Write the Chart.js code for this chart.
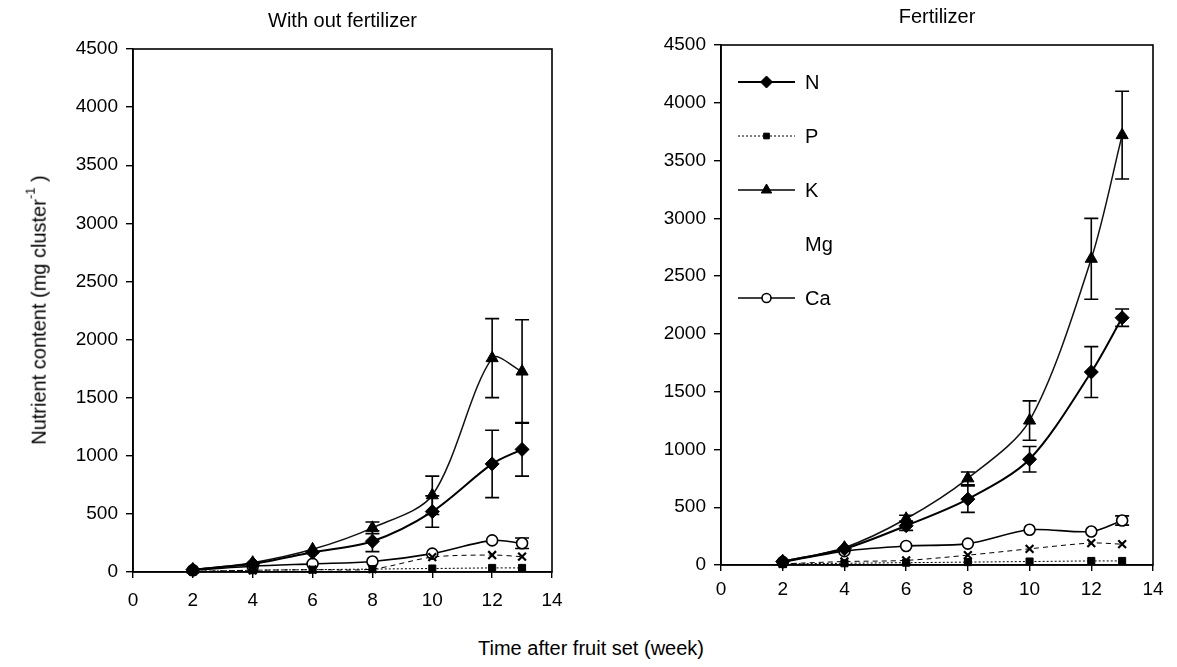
<!DOCTYPE html>
<html>
<head>
<meta charset="utf-8">
<script src="https://cdn.jsdelivr.net/npm/chart.js@4/dist/chart.umd.min.js"></script>
<style>
  html, body { margin: 0; padding: 0; background: #fff; }
  body { width: 1177px; height: 667px; position: relative; overflow: hidden; font-family: 'Liberation Sans', Arial, sans-serif; color: #000; }
  #leftWrap { position: absolute; left: 0; top: 0; width: 590px; height: 630px; }
  #rightWrap { position: absolute; left: 590px; top: 0; width: 587px; height: 620px; }
  #ytitle { position: absolute; left: 38px; top: 310px; transform: translate(-50%, -50%) rotate(-90deg); white-space: nowrap; font-size: 20px; }
  #ytitle sup { font-size: 13px; position: relative; top: -3px; }
  #xtitle { position: absolute; left: 591px; top: 648px; transform: translate(-50%, -50%); white-space: nowrap; font-size: 20px; }
</style>
</head>
<body>
<div id="leftWrap"><canvas id="leftChart"></canvas></div>
<div id="rightWrap"><canvas id="rightChart"></canvas></div>
<div id="ytitle">Nutrient content (mg cluster<sup>-1</sup> )</div>
<div id="xtitle">Time after fruit set (week)</div>
<script>
// ---- data ----
const weeks = [2, 4, 6, 8, 10, 12, 13];
const xTickValues = [0, 2, 4, 6, 8, 10, 12, 14];
const yTickValues = [0, 500, 1000, 1500, 2000, 2500, 3000, 3500, 4000, 4500];
const seriesNames = ['N', 'P', 'K', 'Mg', 'Ca'];
const panelTitles = ['With out fertilizer', 'Fertilizer'];

// Without fertilizer
const noFertN = [20, 70, 170, 265, 520, 930, 1055];
const noFertNErr = [0, 0, 0, 90, 135, 290, 230];
const noFertP = [5, 15, 20, 25, 30, 35, 35];
const noFertK = [20, 80, 195, 380, 660, 1840, 1725];
const noFertKErr = [0, 0, 0, 50, 165, 340, 445];
const noFertMg = [5, 15, 20, 25, 128, 146, 132];
const noFertCa = [15, 50, 70, 90, 158, 272, 247];
const noFertCaErr = [0, 0, 0, 0, 0, 0, 45];

// Fertilizer
const fertN = [30, 140, 340, 570, 915, 1670, 2140];
const fertNErr = [0, 0, 40, 115, 110, 220, 75];
const fertP = [10, 15, 20, 25, 30, 35, 35];
const fertK = [30, 150, 400, 750, 1250, 2650, 3720];
const fertKErr = [0, 0, 30, 55, 170, 350, 380];
const fertMg = [10, 30, 40, 85, 140, 190, 180];
const fertCa = [25, 120, 165, 185, 305, 290, 385];
const fertCaErr = [0, 0, 0, 0, 0, 0, 40];

Chart.defaults.font.family = "'Liberation Sans', Arial, sans-serif";
Chart.defaults.color = '#000';

const styles = {
  N:  { pointStyle: 'rectRot', radius: 7, fill: '#000', stroke: '#000', lineWidth: 2, dash: [], pbw: 1 },
  P:  { pointStyle: 'rect', radius: 5, fill: '#000', stroke: '#000', lineWidth: 1, dash: [2, 2], pbw: 1 },
  K:  { pointStyle: 'triangle', radius: 7, fill: '#000', stroke: '#111', lineWidth: 1.5, dash: [], pbw: 1 },
  Mg: { pointStyle: 'crossRot', radius: 5.5, fill: '#000', stroke: '#000', lineWidth: 1, dash: [5, 4], pbw: 2.2 },
  Ca: { pointStyle: 'circle', radius: 5.5, fill: '#fff', stroke: '#000', lineWidth: 1.6, dash: [], pbw: 1.6 }
};

function makeDataset(name, values, errors) {
  const s = styles[name];
  return {
    label: name,
    data: weeks.map((w, i) => ({ x: w, y: values[i] })),
    errors: errors || null,
    borderColor: s.stroke,
    borderWidth: s.lineWidth,
    borderDash: s.dash,
    backgroundColor: s.fill,
    pointStyle: s.pointStyle,
    pointRadius: s.radius,
    pointBackgroundColor: s.fill,
    pointBorderColor: '#000',
    pointBorderWidth: s.pbw,
    tension: 0.3,
    clip: false,
    fill: false
  };
}

const errorBarPlugin = {
  id: 'errorBars',
  beforeDatasetsDraw(chart) {
    const ctx = chart.ctx;
    const xs = chart.scales.x, ys = chart.scales.y;
    ctx.save();
    ctx.strokeStyle = '#000';
    ctx.lineWidth = 1.6;
    chart.data.datasets.forEach(ds => {
      if (!ds.errors) return;
      ds.data.forEach((pt, i) => {
        const e = ds.errors[i];
        if (!e) return;
        const px = xs.getPixelForValue(pt.x);
        const top = ys.getPixelForValue(pt.y + e);
        const bot = ys.getPixelForValue(pt.y - e);
        const cap = 7;
        ctx.beginPath();
        ctx.moveTo(px, top); ctx.lineTo(px, bot);
        ctx.moveTo(px - cap, top); ctx.lineTo(px + cap, top);
        ctx.moveTo(px - cap, bot); ctx.lineTo(px + cap, bot);
        ctx.stroke();
      });
    });
    ctx.restore();
  }
};

const framePlugin = {
  id: 'frame',
  afterDraw(chart) {
    const a = chart.chartArea, ctx = chart.ctx;
    ctx.save();
    ctx.strokeStyle = '#000';
    ctx.lineWidth = 1.6;
    ctx.strokeRect(a.left, a.top, a.right - a.left, a.bottom - a.top);
    ctx.restore();
  }
};

const insideLegendPlugin = {
  id: 'insideLegend',
  afterDraw(chart, args, opts) {
    if (!opts.show) return;
    const a = chart.chartArea, ctx = chart.ctx;
    ctx.save();
    const x0 = a.left + 17, x1 = a.left + 74, xm = (x0 + x1) / 2;
    chart.data.datasets.forEach((ds, i) => {
      const y = a.top + 37 + i * 54;
      const s = styles[ds.label];
      if (ds.label !== 'Mg') {
        ctx.strokeStyle = '#000';
        ctx.lineWidth = s.lineWidth;
        ctx.setLineDash(s.dash);
        ctx.beginPath(); ctx.moveTo(x0, y); ctx.lineTo(x1, y); ctx.stroke();
        ctx.setLineDash([]);
        ctx.fillStyle = s.fill;
        ctx.strokeStyle = '#000';
        ctx.lineWidth = s.pbw;
        Chart.helpers.drawPoint(ctx, { pointStyle: s.pointStyle, radius: s.radius - 1, rotation: 0, borderWidth: s.pbw }, xm, y);
      }
      ctx.fillStyle = '#000';
      ctx.font = "20px 'Liberation Sans', Arial, sans-serif";
      ctx.textAlign = 'left';
      ctx.textBaseline = 'middle';
      ctx.fillText(ds.label, x1 + 10, y + 1);
    });
    ctx.restore();
  }
};

function buildChart(canvasId, title, datasets, cfg) {
  return new Chart(document.getElementById(canvasId), {
    type: 'line',
    data: { datasets },
    plugins: [errorBarPlugin, framePlugin, insideLegendPlugin],
    options: {
      responsive: true,
      maintainAspectRatio: false,
      animation: false,
      layout: { padding: { left: 0, right: cfg.padRight, top: 0, bottom: 0 } },
      plugins: {
        legend: { display: false },
        tooltip: { enabled: false },
        title: {
          display: true,
          fullSize: false,
          text: title,
          font: { size: 20, weight: 'normal', lineHeight: 1.2 },
          color: '#000',
          padding: { top: cfg.titleTop, bottom: cfg.titleBottom }
        },
        insideLegend: { show: cfg.legend }
      },
      scales: {
        x: {
          type: 'linear',
          min: 0, max: 14,
          afterBuildTicks(scale) { scale.ticks = xTickValues.map(v => ({ value: v })); },
          afterFit(scale) { scale.height = cfg.xHeight; },
          ticks: { font: { size: 19 }, color: '#000', padding: cfg.xPad, maxRotation: 0, callback: v => String(v) },
          grid: { display: true, drawOnChartArea: false, drawTicks: true, tickLength: 6, color: '#000', lineWidth: 1.4 },
          border: { display: true, color: '#000', width: 1.6 }
        },
        y: {
          type: 'linear',
          min: 0, max: 4500,
          afterBuildTicks(scale) { scale.ticks = yTickValues.map(v => ({ value: v })); },
          afterFit(scale) { scale.width = cfg.yWidth; },
          ticks: { font: { size: 19 }, color: '#000', padding: 8, callback: v => String(v) },
          grid: { display: true, drawOnChartArea: false, drawTicks: true, tickLength: 7, color: '#000', lineWidth: 1.4 },
          border: { display: true, color: '#000', width: 1.6 }
        }
      }
    }
  });
}

buildChart('leftChart', panelTitles[0], [
  makeDataset('N', noFertN, noFertNErr),
  makeDataset('P', noFertP),
  makeDataset('K', noFertK, noFertKErr),
  makeDataset('Mg', noFertMg),
  makeDataset('Ca', noFertCa, noFertCaErr)
], { padRight: 38, titleTop: 9, titleBottom: 16, xHeight: 58, xPad: 11, yWidth: 133, legend: false });

buildChart('rightChart', panelTitles[1], [
  makeDataset('N', fertN, fertNErr),
  makeDataset('P', fertP),
  makeDataset('K', fertK, fertKErr),
  makeDataset('Mg', fertMg),
  makeDataset('Ca', fertCa, fertCaErr)
], { padRight: 24, titleTop: 5, titleBottom: 16, xHeight: 55, xPad: 7, yWidth: 131, legend: true });
</script>
</body>
</html>
